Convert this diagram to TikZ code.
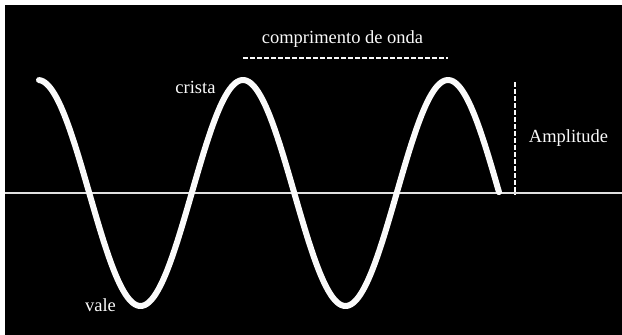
\documentclass[tikz,border=0pt]{standalone}
\usepackage{fontspec}
\setmainfont{Liberation Serif}
\usepackage{tikz}
\usetikzlibrary{positioning}
\definecolor{wLine}{RGB}{250,250,250}
\definecolor{wAxis}{RGB}{225,225,225}
\tikzset{
  wave/.style={draw=wLine, line width=6pt, line cap=round, line join=round},
  axisline/.style={draw=wAxis, line width=1.3pt},
  measure/.style={draw=wLine, line width=2pt, dash pattern=on 4.5pt off 2.5pt},
  lbl/.style={text=wLine, font=\fontsize{18.5}{22}\selectfont, inner sep=0pt, anchor=base},
}

\begin{document}
\begin{tikzpicture}[x=1pt, y=-1pt]
  % --- frame ---
  \useasboundingbox (0,0) rectangle (622,335);
  \fill[white] (0,0) rectangle (622,335);
  \fill[black] (5,5) rectangle (622,335);

  % --- rest line ---
  \draw[axisline] (5,193) -- (622,193);

  % --- wave ---
  \draw[wave] plot[domain=39:499, samples=240, smooth]
    (\x, {193-113*cos(1.7561*(\x-38))});

  % --- labels ---
  \node[lbl] (lambda) at (342.5,43){comprimento de onda};
  \node[lbl] (crest)  at (195.5,93){crista};
  \node[lbl] (trough) at (100.5,311){vale};
  \node[lbl] (ampl)   at (568.5,142){Amplitude};

  % --- measures ---
  \coordinate (la) at (243,58);
  \coordinate (lb) at (448,58);
  \coordinate (aa) at (515,82);
  \coordinate (ab) at (515,195);
  \draw[measure] (la) -- (lb);
  \draw[measure] (aa) -- (ab);
\end{tikzpicture}
\end{document}
